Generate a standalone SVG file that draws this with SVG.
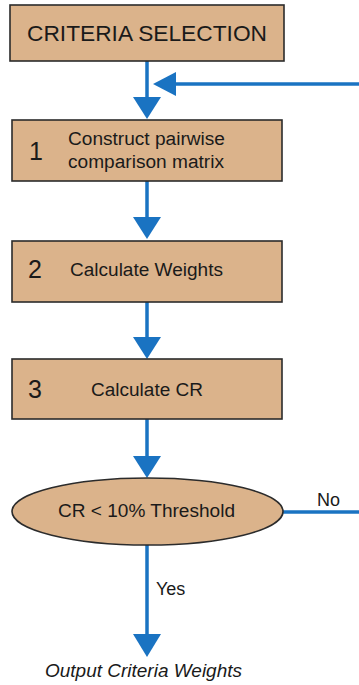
<svg xmlns="http://www.w3.org/2000/svg" width="359" height="685" viewBox="0 0 359 685">
  <style>
    .box { fill: #dbb38b; stroke: #2b2b2b; stroke-width: 1.6; }
    .line { stroke: #1a73c2; stroke-width: 3.5; fill: none; }
    .head { fill: #1a73c2; }
    text { font-family: "Liberation Sans", Arial, sans-serif; fill: #1a1a1a; }
    .num { font-size: 25px; }
    .lbl { font-size: 18px; }
  </style>
  <rect width="359" height="685" fill="#ffffff"/>

  <g id="connectors">
    <!-- selection to step 1 -->
    <line class="line" x1="147" y1="61" x2="147" y2="100"/>
    <polygon class="head" points="133,97 161,97 147,119"/>
    <!-- feedback from the No branch -->
    <line class="line" x1="359" y1="84" x2="172" y2="84"/>
    <polygon class="head" points="176,72 176,96 153,84"/>
    <!-- step 1 to step 2 -->
    <line class="line" x1="147" y1="181" x2="147" y2="220"/>
    <polygon class="head" points="133,217 161,217 147,239"/>
    <!-- step 2 to step 3 -->
    <line class="line" x1="147" y1="302" x2="147" y2="340"/>
    <polygon class="head" points="133,337 161,337 147,359"/>
    <!-- step 3 to decision -->
    <line class="line" x1="147" y1="419" x2="147" y2="459"/>
    <polygon class="head" points="133,456 161,456 147,478"/>
    <!-- No branch -->
    <line class="line" x1="283" y1="512" x2="359" y2="512"/>
    <text class="lbl" x="317" y="506">No</text>
    <!-- Yes branch -->
    <line class="line" x1="147" y1="545" x2="147" y2="637"/>
    <polygon class="head" points="133,634 161,634 147,657"/>
    <text class="lbl" x="156" y="595">Yes</text>
  </g>

  <g id="criteria-selection">
    <rect class="box" x="10" y="5" width="274" height="56"/>
    <text x="147" y="41" text-anchor="middle" font-size="22" textLength="240" lengthAdjust="spacingAndGlyphs">CRITERIA SELECTION</text>
  </g>

  <g id="step-1">
    <rect class="box" x="12" y="120" width="270" height="61"/>
    <text class="num" x="29" y="160">1</text>
    <text class="lbl" x="68" y="145" textLength="157" lengthAdjust="spacingAndGlyphs">Construct pairwise</text>
    <text class="lbl" x="68" y="168" textLength="156" lengthAdjust="spacingAndGlyphs">comparison matrix</text>
  </g>

  <g id="step-2">
    <rect class="box" x="12" y="241" width="270" height="61"/>
    <text class="num" x="28" y="278">2</text>
    <text class="lbl" x="70" y="276" textLength="153" lengthAdjust="spacingAndGlyphs">Calculate Weights</text>
  </g>

  <g id="step-3">
    <rect class="box" x="12" y="359" width="270" height="60"/>
    <text class="num" x="28" y="398">3</text>
    <text class="lbl" x="91" y="396" textLength="112" lengthAdjust="spacingAndGlyphs">Calculate CR</text>
  </g>

  <g id="threshold-check">
    <ellipse class="box" cx="147.5" cy="511.5" rx="135.5" ry="33.5"/>
    <text class="lbl" x="58" y="517" textLength="177" lengthAdjust="spacingAndGlyphs">CR &lt; 10% Threshold</text>
  </g>

  <g id="output">
    <text class="lbl" x="45" y="677" font-style="italic" textLength="197" lengthAdjust="spacingAndGlyphs">Output Criteria Weights</text>
  </g>
</svg>
